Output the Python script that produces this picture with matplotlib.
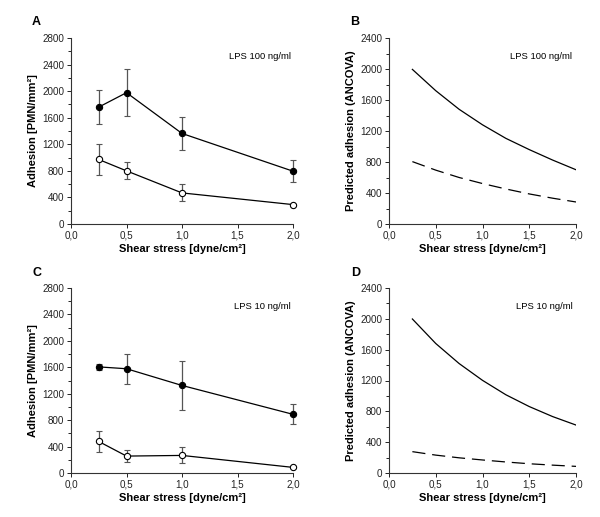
import matplotlib

matplotlib.use("Agg")
import matplotlib.pyplot as plt
from matplotlib.ticker import MultipleLocator, FuncFormatter

plt.rcParams["font.family"] = ["Liberation Sans", "DejaVu Sans"]

# measured adhesion (mean +/- error), panels A and C
shear = [0.25, 0.5, 1.0, 2.0]

a_filled = [1760, 1977, 1363, 795]
a_filled_err = [262, 352, 255, 163]
a_open = [971, 800, 468, 292]
a_open_err = [232, 126, 129, 12]

c_filled = [1606, 1578, 1325, 888]
c_filled_err = [45, 224, 369, 150]
c_open = [477, 256, 266, 85]
c_open_err = [166, 85, 120, 12]

# predicted adhesion (ANCOVA), panels B and D
shear_fit = [0.25, 0.5, 0.75, 1.0, 1.25, 1.5, 1.75, 2.0]
b_solid = [1995, 1720, 1480, 1280, 1105, 960, 825, 700]
b_dashed = [805, 695, 600, 522, 452, 388, 333, 284]
d_solid = [1998, 1680, 1420, 1202, 1015, 862, 732, 622]
d_dashed = [277, 232, 197, 169, 143, 120, 102, 86]

fig = plt.figure(figsize=(6.0, 5.17), dpi=100)

W, H = 600.0, 517.0


def make_ax(left, right, top, bottom):
    return fig.add_axes([left / W, 1 - bottom / H, (right - left) / W, (bottom - top) / H])


comma = FuncFormatter(lambda v, p: f"{v:.1f}".replace(".", ","))


def style(ax, ymax, ylabel):
    ax.set_xlim(0, 2.0)
    ax.set_ylim(0, ymax)
    ax.spines["top"].set_visible(False)
    ax.spines["right"].set_visible(False)
    for s in ("left", "bottom"):
        ax.spines[s].set_linewidth(0.8)
        ax.spines[s].set_color("#333333")
    ax.xaxis.set_major_locator(MultipleLocator(0.5))
    ax.xaxis.set_major_formatter(comma)
    ax.yaxis.set_major_locator(MultipleLocator(400))
    ax.yaxis.set_minor_locator(MultipleLocator(200))
    ax.tick_params(labelsize=7.1, length=3, width=0.7, pad=2, colors="#222222")
    ax.tick_params(which="minor", length=2, width=0.6)
    ax.set_xlabel("Shear stress [dyne/cm²]", fontsize=8, fontweight="bold", labelpad=2)
    ax.set_ylabel(ylabel, fontsize=8, fontweight="bold", labelpad=3)


def measured(ax, filled, filled_err, opn, opn_err):
    for vals, err, face in [(filled, filled_err, "black"), (opn, opn_err, "white")]:
        _, caps, bars = ax.errorbar(shear, vals, yerr=err, color="black", ecolor="#555555",
                                    elinewidth=0.9, capsize=2.5, capthick=0.9, marker="o",
                                    markersize=4.5, markerfacecolor=face, markeredgewidth=0.8,
                                    linewidth=0.9, zorder=3, clip_on=False)
        for c in caps:
            c.set_clip_on(False)
        for b in bars:
            b.set_clip_on(False)


axA = make_ax(71, 293, 38, 224)
measured(axA, a_filled, a_filled_err, a_open, a_open_err)
style(axA, 2800, "Adhesion [PMN/mm²]")
axA.text(0.99, 0.9, "LPS 100 ng/ml", transform=axA.transAxes, ha="right", va="center", fontsize=6.8)

axB = make_ax(389, 576, 38, 224)
axB.plot(shear_fit, b_solid, color="black", linewidth=0.9)
axB.plot(shear_fit, b_dashed, color="black", linewidth=0.9, dashes=(10.5, 5.5))
style(axB, 2400, "Predicted adhesion (ANCOVA)")
axB.text(0.98, 0.9, "LPS 100 ng/ml", transform=axB.transAxes, ha="right", va="center", fontsize=6.8)

axC = make_ax(71, 293, 288, 473)
measured(axC, c_filled, c_filled_err, c_open, c_open_err)
style(axC, 2800, "Adhesion [PMN/mm²]")
axC.text(0.99, 0.9, "LPS 10 ng/ml", transform=axC.transAxes, ha="right", va="center", fontsize=6.8)

axD = make_ax(389, 576, 288, 473)
axD.plot(shear_fit, d_solid, color="black", linewidth=0.9)
axD.plot(shear_fit, d_dashed, color="black", linewidth=0.9, dashes=(10.5, 5.5))
style(axD, 2400, "Predicted adhesion (ANCOVA)")
axD.text(0.98, 0.9, "LPS 10 ng/ml", transform=axD.transAxes, ha="right", va="center", fontsize=6.8)

for lab, x, y in [("A", 36, 22), ("B", 355, 22), ("C", 37, 273), ("D", 356, 273)]:
    fig.text(x / W, 1 - y / H, lab, fontsize=9, fontweight="bold", ha="center", va="center")

fig.savefig("out.png", dpi=100)
